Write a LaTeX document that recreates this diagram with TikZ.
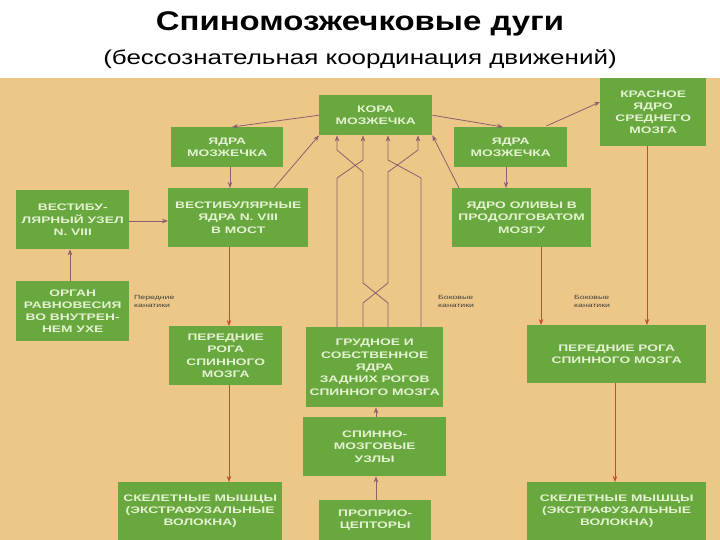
\documentclass[tikz,border=0pt]{standalone}
\usepackage{fontspec}
\setmainfont{Liberation Sans}
\newfontfamily\boxfont[FakeStretch=1.45]{Liberation Sans}
\newfontfamily\titfont[FakeStretch=1.22]{Liberation Sans}
\newfontfamily\subfont[FakeStretch=1.3]{Liberation Sans}
\usetikzlibrary{arrows.meta}
\definecolor{bg}{RGB}{236,199,135}
\definecolor{gbox}{RGB}{104,168,62}
\definecolor{gtxt}{RGB}{228,242,210}
\definecolor{sens}{RGB}{140,95,110}
\definecolor{mot}{RGB}{205,70,45}
\tikzset{
 box/.style={fill=gbox, draw=none, inner sep=1pt, anchor=north west, align=center,
   text=gtxt, font=\boxfont\fontsize{9.5}{12.3}\selectfont\bfseries},
 sarr/.style={draw=sens, line width=0.8pt, -{Stealth[length=6pt,width=4.5pt]}},
 marr/.style={draw=mot, line width=0.7pt, -{Stealth[length=6pt,width=4.5pt]}},
 lab/.style={font=\boxfont\fontsize{6}{8}\selectfont, text=black!75, align=left, anchor=north west, inner sep=0pt}
}
\newcommand{\bx}[6]{\node[box, minimum width=#4pt, minimum height=#5pt] (#1) at (#2,#3) {#6};}
\begin{document}
\begin{tikzpicture}[x=1pt,y=-1pt]
\useasboundingbox (0,0) rectangle (720,540);
\fill[white] (0,0) rectangle (720,540);
\fill[bg] (0,78) rectangle (720,540);
\node (t1) at (360,24) {\titfont\fontsize{27}{30}\selectfont\bfseries Спиномозжечковые дуги};
\node (t2) at (360,59) {\subfont\fontsize{20}{24}\selectfont (бессознательная координация движений)};
\bx{kora}{319}{95}{113}{40}{КОРА\\МОЗЖЕЧКА}
\bx{red}{600}{78}{106}{68}{КРАСНОЕ\\ЯДРО\\СРЕДНЕГО\\МОЗГА}
\bx{yl}{171}{127}{112}{40}{ЯДРА\\МОЗЖЕЧКА}
\bx{yr}{454}{127}{113}{40}{ЯДРА\\МОЗЖЕЧКА}
\bx{uzel}{16}{190}{113}{59}{ВЕСТИБУ-\\ЛЯРНЫЙ УЗЕЛ\\N. VIII}
\bx{vest}{168}{188}{140}{59}{ВЕСТИБУЛЯРНЫЕ\\ЯДРА N. VIII\\В МОСТ}
\bx{oliv}{452}{188}{139}{59}{ЯДРО ОЛИВЫ В\\ПРОДОЛГОВАТОМ\\МОЗГУ}
\bx{organ}{16}{281}{113}{60}{ОРГАН\\РАВНОВЕСИЯ\\ВО ВНУТРЕН-\\НЕМ УХЕ}
\bx{pl}{169}{326}{113}{59}{ПЕРЕДНИЕ\\РОГА\\СПИННОГО\\МОЗГА}
\bx{grud}{306}{327}{137}{80}{ГРУДНОЕ И\\СОБСТВЕННОЕ\\ЯДРА\\ЗАДНИХ РОГОВ\\СПИННОГО МОЗГА}
\bx{pr}{527}{325}{179}{58}{ПЕРЕДНИЕ РОГА\\СПИННОГО МОЗГА}
\bx{uzly}{303}{417}{143}{59}{СПИННО-\\МОЗГОВЫЕ\\УЗЛЫ}
\bx{skl}{118}{482}{164}{58}{СКЕЛЕТНЫЕ МЫШЦЫ\\(ЭКСТРАФУЗАЛЬНЫЕ\\ВОЛОКНА)}
\bx{prop}{319}{500}{112}{40}{ПРОПРИО-\\ЦЕПТОРЫ}
\bx{skr}{527}{482}{179}{58}{СКЕЛЕТНЫЕ МЫШЦЫ\\(ЭКСТРАФУЗАЛЬНЫЕ\\ВОЛОКНА)}
\node[lab] (l1) at (134,295) {Передние\\канатики};
\node[lab] (l2) at (438,295) {Боковые\\канатики};
\node[lab] (l3) at (574,295) {Боковые\\канатики};
\draw[sarr] (kora.west) -- (yl.north -| 232,0);
\draw[sarr] (kora.east) -- (yr.north -| 503,0);
\draw[sarr] (yr.north east) ++(-21,-1) -- (red.west |- 0,102);
\draw[sarr] (yl.south -| 230,0) -- (vest.north -| 230,0);
\draw[sarr] (yr.south -| 506,0) -- (oliv.north -| 506,0);
\draw[sarr] (vest.north -| 274,0) -- (kora.south west);
\draw[sarr] (oliv.north -| 459,0) -- (kora.south east);
\draw[sarr] (uzel.east |- 0,221) -- (vest.west |- 0,221);
\draw[sarr] (organ.north -| 70,0) -- (uzel.south -| 70,0);
\draw[sarr] (uzly.north -| 376,0) -- (grud.south -| 376,0);
\draw[sarr] (prop.north -| 376,0) -- (uzly.south -| 376,0);
\draw[sarr] (grud.north -| 337,0) -- (337,178) -- (363,160) -- (kora.south -| 363,0);
\draw[sarr] (grud.north -| 421,0) -- (421,178) -- (388,160) -- (kora.south -| 388,0);
\draw[sarr] (grud.north -| 363,0) -- (363,303) -- (388,283) -- (388,172) -- (418,150) -- (kora.south -| 418,0);
\draw[sarr] (grud.north -| 388,0) -- (388,303) -- (363,283) -- (363,172) -- (337,150) -- (kora.south -| 337,0);
\draw[marr] (vest.south -| 229,0) -- (pl.north -| 229,0);
\draw[marr] (oliv.south -| 541,0) -- (pr.north -| 541,0);
\draw[marr] (red.south -| 647,0) -- (pr.north -| 647,0);
\draw[marr] (pl.south -| 229,0) -- (skl.north -| 229,0);
\draw[marr] (pr.south -| 615,0) -- (skr.north -| 615,0);
\end{tikzpicture}
\end{document}
